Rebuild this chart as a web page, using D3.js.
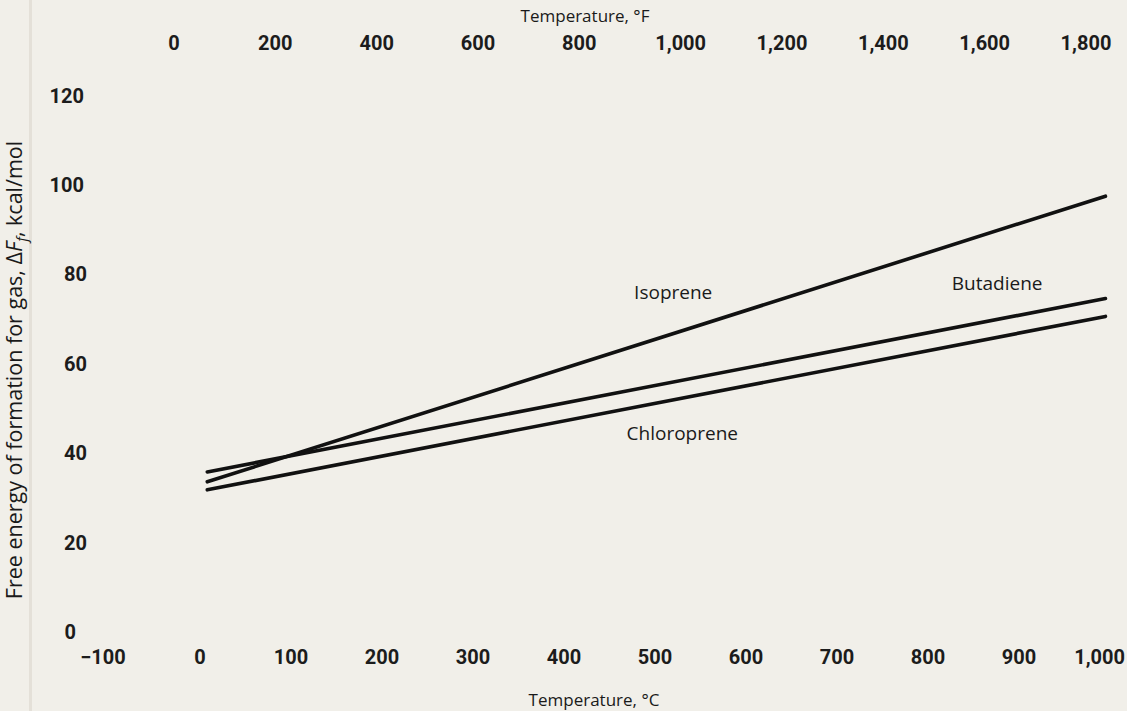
<!DOCTYPE html>
<html>
<head>
<meta charset="utf-8">
<script src="https://cdn.jsdelivr.net/npm/d3@7"></script>
<style>
  body { margin: 0; background: #f1efe9; }
  svg { display: block; }
</style>
</head>
<body>
<svg id="chart" width="1127" height="711"></svg>
<script>
// tick values
var celsiusTicks = [-100, 0, 100, 200, 300, 400, 500, 600, 700, 800, 900, 1000];
var fahrenheitTicks = [0, 200, 400, 600, 800, 1000, 1200, 1400, 1600, 1800];
var energyTicks = [0, 20, 40, 60, 80, 100, 120];

// curves: [temperature °C, kcal/mol]
var isoprene = [[8, 33.6], [995, 97.5]];
var butadiene = [[8, 35.8], [995, 74.6]];
var chloroprene = [[8, 31.8], [995, 70.6]];

var svg = d3.select("#chart");
var labelFont = "Roboto, 'DejaVu Sans', sans-serif";
var textFont = "'Open Sans', 'DejaVu Sans', sans-serif";

svg.append("rect").attr("width", 1127).attr("height", 711).attr("fill", "#f1efe9");
// faint fold shadow at the left edge of the scan
svg.append("rect").attr("x", 29).attr("width", 3).attr("height", 711).attr("fill", "#e4e0d8");

var x = d3.scaleLinear().domain([0, 1000]).range([200, 1110]);
// top scale is printed a little off from the true conversion, so it gets its own range
var xF = d3.scaleLinear().domain([0, 1800]).range([174, 1086]);
var y = d3.scaleLinear().domain([0, 120]).range([632, 95.6]);
var fmt = d3.format(",");

function tickGroup() {
  return svg.append("g")
      .attr("font-family", labelFont)
      .attr("font-weight", 700)
      .attr("font-size", 20)
      .attr("fill", "#1c1c1c");
}

// bottom labels
tickGroup().selectAll("text")
  .data(celsiusTicks)
  .join("text")
    .attr("x", d => d == 1000 ? x(d) + 15 : x(d))
    .attr("y", 664)
    .attr("text-anchor", d => d == 1000 ? "end" : "middle")
    .attr("dx", d => d < 0 ? -6 : 0)
    .text(d => fmt(d));

// top labels
tickGroup().selectAll("text")
  .data(fahrenheitTicks)
  .join("text")
    .attr("x", d => xF(d))
    .attr("y", 50)
    .attr("text-anchor", "middle")
    .text(d => fmt(d));

// left labels
tickGroup().selectAll("text")
  .data(energyTicks)
  .join("text")
    .attr("x", d => d == 0 ? 76 : (d >= 100 ? 84 : 87))
    .attr("y", d => y(d) + 7)
    .attr("text-anchor", "end")
    .text(d => d);

// curves
var line = d3.line().x(d => x(d[0])).y(d => y(d[1]));
[isoprene, butadiene, chloroprene].forEach(function(s) {
  svg.append("path")
      .datum(s)
      .attr("fill", "none")
      .attr("stroke", "#111")
      .attr("stroke-width", 3.6)
      .attr("stroke-linecap", "round")
      .attr("d", line);
});

// curve names
var names = [["Isoprene", 520, 74.5], ["Butadiene", 876, 76.5], ["Chloroprene", 530, 43]];
svg.append("g")
    .attr("font-family", textFont)
    .attr("font-size", 19)
    .attr("fill", "#1a1a1a")
  .selectAll("text")
  .data(names)
  .join("text")
    .attr("x", d => x(d[1]))
    .attr("y", d => y(d[2]))
    .attr("text-anchor", "middle")
    .text(d => d[0]);

// axis titles
svg.append("text")
    .attr("x", 594).attr("y", 706)
    .attr("text-anchor", "middle")
    .attr("font-family", textFont).attr("font-size", 17).attr("fill", "#1a1a1a")
    .text("Temperature, °C");

svg.append("text")
    .attr("x", 585).attr("y", 22)
    .attr("text-anchor", "middle")
    .attr("font-family", textFont).attr("font-size", 17).attr("fill", "#1a1a1a")
    .text("Temperature, °F");

var yt = svg.append("text")
    .attr("transform", "translate(22,370) rotate(-90)")
    .attr("text-anchor", "middle")
    .attr("font-family", textFont).attr("font-size", 21.5).attr("fill", "#1a1a1a");
yt.append("tspan").text("Free energy of formation for gas, \u0394");
yt.append("tspan").attr("font-style", "italic").text("F");
yt.append("tspan").attr("font-style", "italic").attr("font-size", 15).attr("dy", 5).text("f");
yt.append("tspan").attr("dy", -5).text(", kcal/mol");
</script>
</body>
</html>
